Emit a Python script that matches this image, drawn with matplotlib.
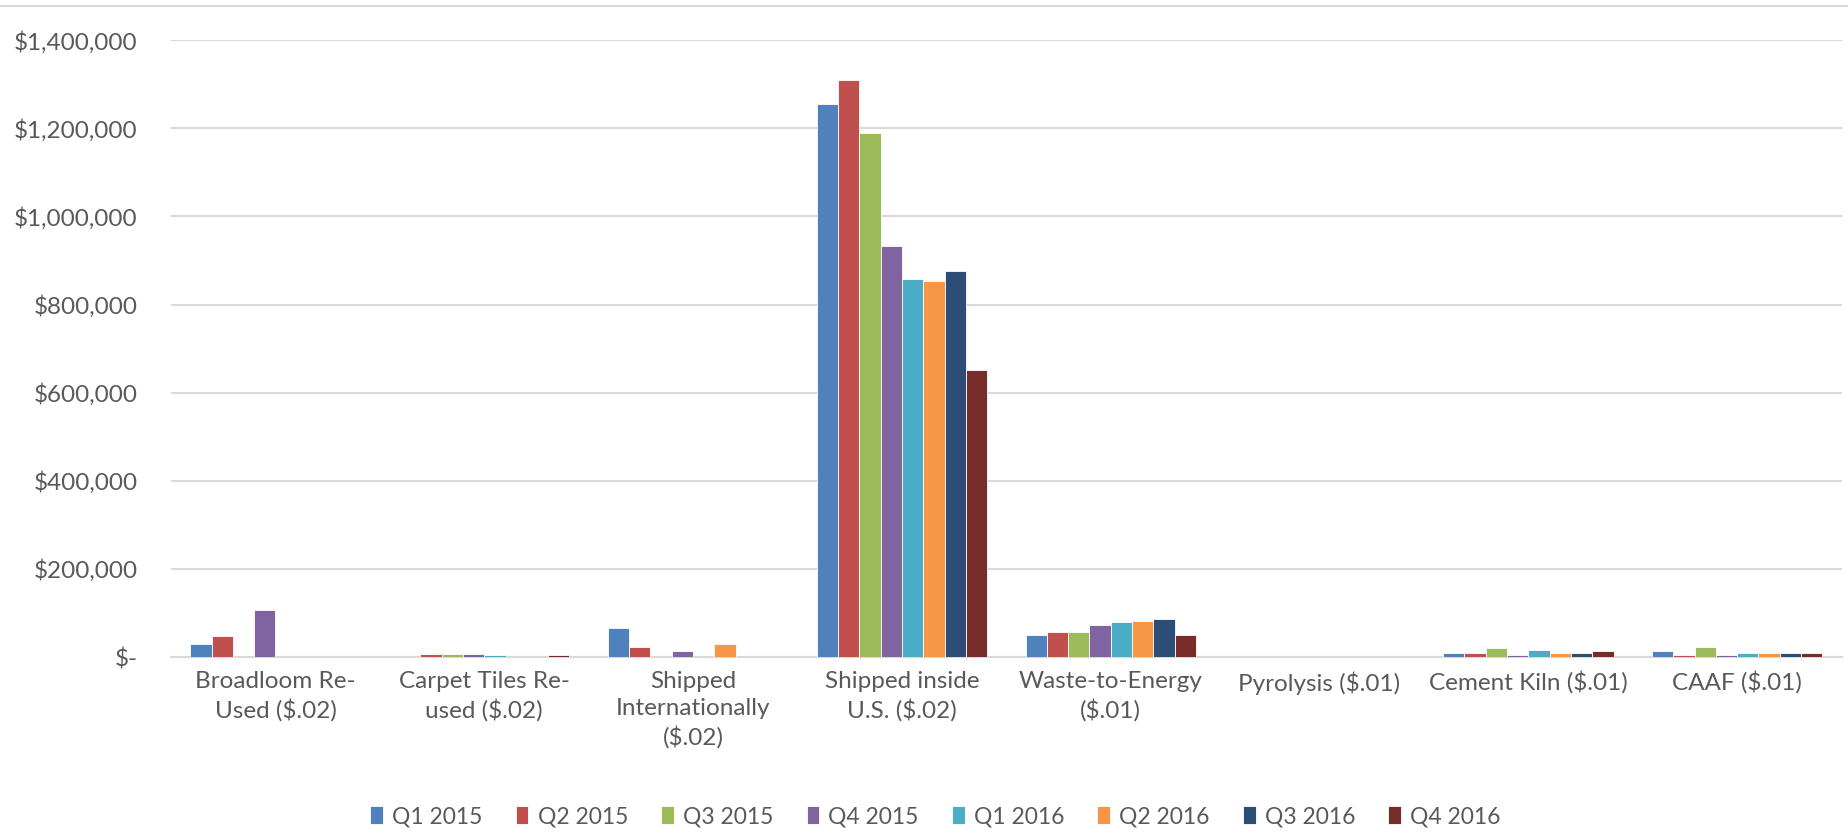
import matplotlib.pyplot as plt
import numpy as np
from matplotlib.ticker import FuncFormatter
from matplotlib.lines import Line2D

categories = ["Broadloom Re-\nUsed ($.02)", "Carpet Tiles Re-\nused ($.02)",
              "Shipped\nInternationally\n($.02)", "Shipped inside\nU.S. ($.02)",
              "Waste-to-Energy\n($.01)", "Pyrolysis ($.01)", "Cement Kiln ($.01)",
              "CAAF ($.01)"]
quarters = ["Q1 2015", "Q2 2015", "Q3 2015", "Q4 2015",
            "Q1 2016", "Q2 2016", "Q3 2016", "Q4 2016"]

# one list per quarter, values in the category order above
q1_2015 = [30000, 0, 67000, 1256000, 50000, 0, 10000, 13000]
q2_2015 = [47000, 7000, 23000, 1310000, 57000, 0, 10000, 6000]
q3_2015 = [0, 7000, 0, 1190000, 57000, 0, 20000, 24000]
q4_2015 = [107000, 7000, 14000, 932000, 73000, 0, 6000, 6000]
q1_2016 = [0, 4000, 0, 859000, 79500, 0, 16500, 10000]
q2_2016 = [0, 0, 30000, 853000, 83000, 0, 10000, 10000]
q3_2016 = [0, 0, 0, 876000, 86000, 0, 10000, 10000]
q4_2016 = [0, 4000, 0, 652000, 50000, 0, 13000, 10000]

series = [q1_2015, q2_2015, q3_2015, q4_2015, q1_2016, q2_2016, q3_2016, q4_2016]
colors = ["#4F81BD", "#C0504D", "#9BBB59", "#8064A2",
          "#4BACC6", "#F79646", "#2C4D75", "#772C2A"]

plt.rcParams['font.family'] = ['Lato', 'DejaVu Sans']
text_color = "#595959"

fig = plt.figure(figsize=(18.49, 8.35), dpi=100)
ax = fig.add_axes([0.0925, 0.213, 0.9035, 0.739])

x = np.arange(len(categories))
width = 0.102
for i, (vals, c) in enumerate(zip(series, colors)):
    offset = (i - 3.5) * width
    ax.bar(x + offset, vals, width, color=c, edgecolor="white", linewidth=0.6,
           label=quarters[i], zorder=3)

ax.set_xlim(-0.5, len(categories) - 0.5)
ax.set_ylim(0, 1400000)
ax.set_yticks(np.arange(0, 1400001, 200000))


def money(v, pos):
    if v == 0:
        return "$-"
    return "${:,.0f}".format(v)


ax.yaxis.set_major_formatter(FuncFormatter(money))
ax.grid(axis="y", color="#D9D9D9", linewidth=1.5, zorder=0)
for s in ["top", "right", "left"]:
    ax.spines[s].set_visible(False)
ax.spines["bottom"].set_color("#D9D9D9")
ax.spines["bottom"].set_linewidth(1.5)
ax.tick_params(axis="both", length=0, labelsize=17.5, colors=text_color)
ax.tick_params(axis="y", pad=24)
ax.tick_params(axis="x", pad=10)
ax.set_xticks(x)
ax.set_xticklabels(categories, linespacing=1.35)

handles, labels = ax.get_legend_handles_labels()
fig.legend(handles, labels, loc="center", bbox_to_anchor=(0.506, 0.022), ncol=8,
           frameon=False, fontsize=16.5, labelcolor=text_color, handlelength=0.55,
           handleheight=0.8, handletextpad=0.4, columnspacing=1.45)

# chart border line at the top
fig.add_artist(Line2D([0, 1], [0.993, 0.993], color="#D9D9D9", linewidth=1.5))

fig.savefig("out.png", dpi=100)
